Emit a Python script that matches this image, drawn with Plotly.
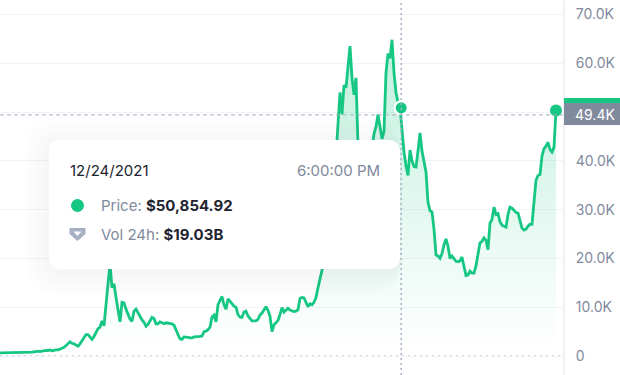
import pandas as pd
import plotly.graph_objects as go

GREEN = "#16c784"
GREY = "#808a9d"
DARK = "#222531"
CROSS = "#a6b0c3"
GRID = "#f1f3f6"
FONT = "Inter"

start_date = "2016-06-27"
step = "10D"
price_k = [
    .65, .66, .67, .65, .6, .58, .6, .6, .6, .61, .62, .65, .7, .72, .74, .75, .78, .85,
    .95, 1.0, .9, 1.0, 1.05, 1.15, 1.1, 1.25, 1.05, 1.2, 1.25, 1.25, 1.35, 1.6, 1.8, 2.1, 2.5, 2.9, 2.6, 2.5, 2.3, 2.0,
    2.5, 3.2, 3.8, 4.4, 4.4, 3.9, 3.4, 4.0, 4.8, 5.6, 5.9, 7.2, 6.2, 10.5, 15.5, 19.0, 14.0, 14.8, 12.0, 9.5, 7.0,
    11.0, 10.9, 9.6, 8.6, 7.6, 7.1, 9.2, 9.6, 8.8, 8.1, 7.4, 6.9, 6.1, 6.5, 7.2, 7.9, 7.7, 6.6, 6.6, 7.0, 6.8, 6.6,
    6.8, 6.7, 6.6, 6.6, 6.3, 5.2, 4.4, 3.5, 3.4, 3.9, 3.9, 3.8, 3.7, 3.7, 3.9, 3.9, 4.0, 4.0, 4.1, 5.0, 5.1, 5.4, 5.9,
    8.0, 8.4, 7.0, 10.5, 11.2, 12.2, 10.5, 9.6, 11.7, 11.2, 10.7, 10.2, 10.0, 8.5, 8.0, 7.9, 9.0, 9.2, 8.2, 7.6, 7.2,
    7.2, 7.2, 7.5, 8.4, 8.8, 9.5, 10.1, 9.3, 8.2, 5.0, 6.4, 6.8, 7.3, 8.5, 9.9, 9.0, 9.4, 9.8, 9.4, 9.2, 9.1, 9.2, 9.5,
    11.8, 12.0, 11.9, 11.0, 10.1, 10.7, 10.5, 11.0, 12.0, 14.0, 16.0, 17.6, 19, 20, 23, 25, 29, 33, 41, 47.7,
    54, 49.5, 55.5, 55, 59, 63.5, 57, 53.5, 57, 43, 38, 36, 34, 33, 34, 40, 43, 45.5, 47, 49.5, 47, 44.5, 46, 58, 62,
    61, 64.8, 58, 54, 52, 51, 46.3, 41.8, 39, 37, 42.2, 40, 38.8, 38.7, 42, 45.7, 42, 39.5, 37.7, 31.5, 29.8, 29.5,
    26, 20.7, 20.5, 20, 21, 22.8, 24, 22.5, 20, 20.5, 20.0, 19.4, 19.3, 19.5, 20.3, 18.5, 16.5, 16.6, 17.4, 17, 17,
    18.5, 21, 23.2, 23.5, 24.2, 23.7, 21.8, 27.2, 28, 30.5, 29, 29.2, 27.5, 26.8, 26.6, 26.4, 29, 30.5, 30.3, 29.9,
    29.4, 29.3, 28, 26.2, 25.8, 26, 26.6, 27, 27, 32, 36, 37, 37.2, 41, 42.5, 43, 43.8, 42.3, 41.8, 42.8, 50.3,
]
tick_values = [0, 10, 20, 30, 40, 50, 60, 70]
tick_labels = ["0", "10.0K", "20.0K", "30.0K", "40.0K", "", "60.0K", "70.0K"]
hover_date = "2021-12-24"
hover_price_k = 50.85
current_price_k = 49.4
tooltip_date = "12/24/2021"
tooltip_time = "6:00:00 PM"
tooltip_price = "$50,854.92"
tooltip_vol = "$19.03B"
current_label = "49.4K"

W, H, R = 620, 375, 57
PW = W - R


def px(x):
    return x / PW


def py(y):
    return 1 - y / H


def rect(x0, y0, x1, y1, fill, layer="above"):
    return dict(type="rect", xref="paper", yref="paper", x0=px(x0), x1=px(x1), y0=py(y0), y1=py(y1),
                fillcolor=fill, line_width=0, layer=layer)


def path(points_str, fill):
    return dict(type="path", xref="paper", yref="paper", path=points_str, fillcolor=fill, line_width=0, layer="above")


def rounded(x0, y0, x1, y1, r, fill):
    P = lambda a, b: f"{px(a):.5f},{py(b):.5f}"
    d = (f"M{P(x0 + r, y0)} L{P(x1 - r, y0)} Q{P(x1, y0)} {P(x1, y0 + r)} L{P(x1, y1 - r)} "
         f"Q{P(x1, y1)} {P(x1 - r, y1)} L{P(x0 + r, y1)} Q{P(x0, y1)} {P(x0, y1 - r)} "
         f"L{P(x0, y0 + r)} Q{P(x0, y0)} {P(x0 + r, y0)} Z")
    return path(d, fill)


def poly(pts, fill):
    d = "M" + " L".join(f"{px(a):.5f},{py(b):.5f}" for a, b in pts) + " Z"
    return path(d, fill)


def note(x, y, text, color=GREY, size=15, anchor="left"):
    return dict(xref="paper", yref="paper", x=px(x), y=py(y), text=text, showarrow=False, xanchor=anchor,
                yanchor="middle", font=dict(family=FONT, size=size, color=color))


dates = pd.date_range(start_date, periods=len(price_k), freq=step)
x_start = pd.Timestamp(start_date)
x_end = x_start + pd.Timedelta(days=5 * PW)

fig = go.Figure()
fig.add_trace(go.Scatter(
    x=dates, y=price_k, mode="lines", line=dict(color=GREEN, width=2.8), fill="tozeroy",
    fillgradient=dict(type="vertical", start=2, stop=65,
                      colorscale=[[0, "rgba(22,199,132,0)"], [1, "rgba(22,199,132,0.27)"]]),
    hoverinfo="skip", showlegend=False))
fig.add_trace(go.Scatter(
    x=[dates[-1]], y=[price_k[-1]], mode="markers", marker=dict(color=GREEN, size=12),
    hoverinfo="skip", showlegend=False))
fig.add_trace(go.Scatter(
    x=[hover_date], y=[hover_price_k], mode="markers",
    marker=dict(color=GREEN, size=13, line=dict(color="white", width=2)),
    hoverinfo="skip", showlegend=False))

shapes = [
    dict(type="line", xref="paper", yref="y", x0=0, x1=1, y0=0, y1=0, layer="below",
         line=dict(color=CROSS, width=1, dash="2px,4px")),
    dict(type="line", xref="paper", yref="y", x0=0, x1=1, y0=current_price_k, y1=current_price_k, layer="above",
         line=dict(color=CROSS, width=1, dash="4px,3px")),
]
# tooltip shadow then card
for k in range(26, 1, -3):
    shapes.append(rounded(49 - k, 140 - k + 4, 400 + min(k, 1), 269 + k + 2, 12 + k, "rgba(88,102,126,0.009)"))
shapes.append(rounded(49, 140, 400, 269, 12, "#ffffff"))
shapes.append(dict(type="line", xref="x", yref="paper", x0=hover_date, x1=hover_date, y0=0, y1=1, layer="above",
                   line=dict(color=CROSS, width=1.5, dash="2px,3px")))
# tooltip icons
shapes.append(dict(type="circle", xref="paper", yref="paper", x0=px(71), x1=px(84), y0=py(199), y1=py(212),
                   fillcolor=GREEN, line_width=0, layer="above"))
shapes.append(poly([(69.5, 228), (85.5, 228), (85.5, 234), (77.5, 241), (69.5, 234)], CROSS))
shapes.append(poly([(73.5, 231.5), (81.5, 231.5), (77.5, 236)], "#ffffff"))
# current price flag
shapes.append(rect(564, 98, 620, 103, GREEN))
shapes.append(rect(564, 103, 620, 125, GREY))

annotations = [
    note(67.5, 170, tooltip_date, DARK),
    note(382, 170, tooltip_time, GREY, anchor="right"),
    note(99, 205, f"Price: <b><span style='color:{DARK}'>{tooltip_price}</span></b>"),
    note(99, 234, f"Vol 24h: <b><span style='color:{DARK}'>{tooltip_vol}</span></b>"),
    note(573, 115, current_label, "#ffffff", size=14),
]

fig.update_layout(
    width=W, height=H, autosize=False,
    margin=dict(l=0, r=R, t=0, b=0, pad=0),
    paper_bgcolor="white", plot_bgcolor="white",
    showlegend=False, hovermode=False,
    font=dict(family=FONT, size=14, color=GREY),
    shapes=shapes, annotations=annotations,
    xaxis=dict(range=[x_start, x_end], visible=False, fixedrange=True),
    yaxis=dict(side="right", range=[-3.893, 72.95], tickmode="array", tickvals=tick_values, ticktext=tick_labels,
               showgrid=True, gridcolor=GRID, gridwidth=1, zeroline=False,
               showline=True, linecolor="#eff2f5", linewidth=2, ticks="outside", ticklen=8,
               tickcolor="rgba(0,0,0,0)", tickfont=dict(family=FONT, size=14, color=GREY), fixedrange=True),
)

fig.write_html("out.html", config={"displayModeBar": False},
               post_script="document.body.style.margin='0';document.body.style.overflow='hidden';")
